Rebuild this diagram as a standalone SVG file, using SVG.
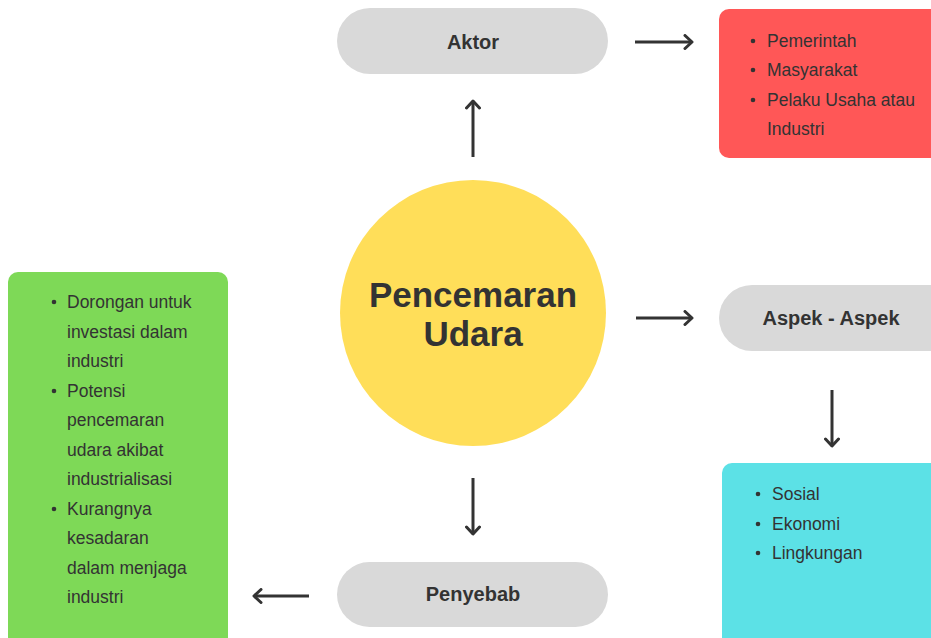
<svg xmlns="http://www.w3.org/2000/svg" width="931" height="638" viewBox="0 0 931 638">
<style>
.pill{fill:#D9D9D9}
.title{font-family:"Liberation Sans",Arial,sans-serif;font-weight:bold;font-size:20px;fill:#333333;text-anchor:middle}
.big{font-family:"Liberation Sans",Arial,sans-serif;font-weight:bold;font-size:35px;fill:#333333;text-anchor:middle}
.item{font-family:"Liberation Sans",Arial,sans-serif;font-size:17.5px;fill:#333333}
.dot{fill:#333333}
.conn{stroke:#333333;stroke-width:3;fill:none;marker-end:url(#head)}
</style>
<defs>
<marker id="head" markerUnits="userSpaceOnUse" markerWidth="14" markerHeight="16" refX="9" refY="8" orient="auto">
<path d="M2,1.5 L9,8 L2,14.5" fill="none" stroke="#333333" stroke-width="3" stroke-linecap="round" stroke-linejoin="round"/>
</marker>
</defs>
<rect width="931" height="638" fill="#FFFFFF"/>
<g id="connectors">
<line class="conn" x1="473" y1="157" x2="473" y2="101"/>
<line class="conn" x1="635" y1="42" x2="692" y2="42"/>
<line class="conn" x1="636" y1="318" x2="692" y2="318"/>
<line class="conn" x1="832" y1="390" x2="832" y2="446"/>
<line class="conn" x1="473" y1="478" x2="473" y2="534"/>
<line class="conn" x1="309" y1="596" x2="254" y2="596"/>
</g>
<g id="center">
<circle cx="473" cy="313" r="133" fill="#FFDE59"/>
<text class="big" x="473" y="307">Pencemaran</text>
<text class="big" x="473" y="346">Udara</text>
</g>
<g id="aktor">
<rect class="pill" x="337" y="8" width="271" height="66" rx="33"/>
<text class="title" x="473" y="49">Aktor</text>
</g>
<g id="aktor-list">
<rect x="719" y="9" width="230" height="149" rx="10" fill="#FF5757"/>
<circle class="dot" cx="753" cy="41" r="2.3"/>
<circle class="dot" cx="753" cy="70" r="2.3"/>
<circle class="dot" cx="753" cy="100" r="2.3"/>
<text class="item" x="767" y="47">Pemerintah</text>
<text class="item" x="767" y="76">Masyarakat</text>
<text class="item" x="767" y="106">Pelaku Usaha atau</text>
<text class="item" x="767" y="135">Industri</text>
</g>
<g id="aspek">
<rect class="pill" x="719" y="285" width="260" height="66" rx="33"/>
<text class="title" x="831" y="325">Aspek - Aspek</text>
</g>
<g id="aspek-list">
<rect x="722" y="463" width="230" height="200" rx="10" fill="#5CE1E6"/>
<circle class="dot" cx="758" cy="494" r="2.3"/>
<circle class="dot" cx="758" cy="524" r="2.3"/>
<circle class="dot" cx="758" cy="553" r="2.3"/>
<text class="item" x="772" y="500">Sosial</text>
<text class="item" x="772" y="530">Ekonomi</text>
<text class="item" x="772" y="559">Lingkungan</text>
</g>
<g id="penyebab">
<rect class="pill" x="337" y="562" width="271" height="65" rx="32.5"/>
<text class="title" x="473" y="601">Penyebab</text>
</g>
<g id="penyebab-list">
<rect x="8" y="272" width="220" height="400" rx="10" fill="#7ED957"/>
<circle class="dot" cx="54" cy="302" r="2.3"/>
<circle class="dot" cx="54" cy="391" r="2.3"/>
<circle class="dot" cx="54" cy="509" r="2.3"/>
<text class="item" x="67" y="308">Dorongan untuk</text>
<text class="item" x="67" y="337.5">investasi dalam</text>
<text class="item" x="67" y="367">industri</text>
<text class="item" x="67" y="396.5">Potensi</text>
<text class="item" x="67" y="426">pencemaran</text>
<text class="item" x="67" y="455.5">udara akibat</text>
<text class="item" x="67" y="485">industrialisasi</text>
<text class="item" x="67" y="514.5">Kurangnya</text>
<text class="item" x="67" y="544">kesadaran</text>
<text class="item" x="67" y="573.5">dalam menjaga</text>
<text class="item" x="67" y="603">industri</text>
</g>
</svg>
